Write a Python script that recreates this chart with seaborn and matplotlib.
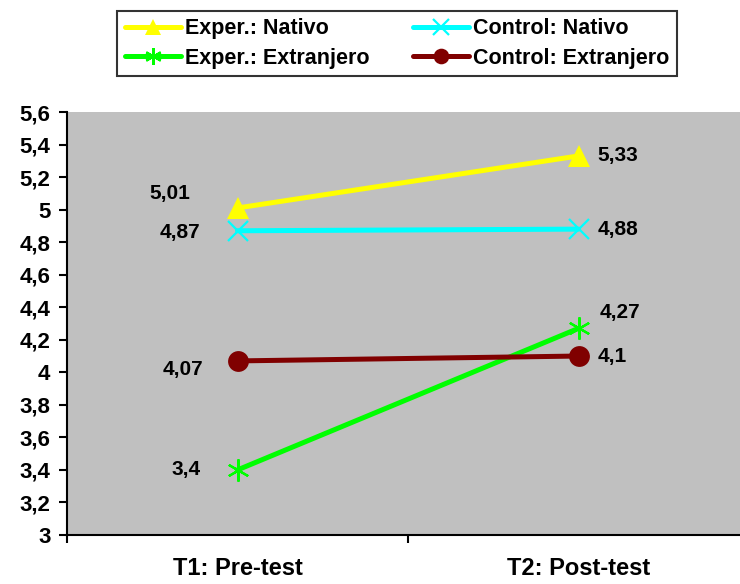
import matplotlib
matplotlib.use("Agg")
import matplotlib.pyplot as plt
import seaborn as sns
import pandas as pd

# Mean scores per group at each test moment
moments = ["T1: Pre-test", "T2: Post-test"]
exper_nativo = [5.01, 5.33]
control_nativo = [4.87, 4.88]
exper_extranjero = [3.40, 4.27]
control_extranjero = [4.07, 4.10]

series_names = ["Exper.: Nativo", "Control: Nativo",
                "Exper.: Extranjero", "Control: Extranjero"]
series_values = [exper_nativo, control_nativo, exper_extranjero, control_extranjero]

colors = {"Exper.: Nativo": "#FFFF00", "Control: Nativo": "#00FFFF",
          "Exper.: Extranjero": "#00FF00", "Control: Extranjero": "#800000"}
markers = {"Exper.: Nativo": "^", "Control: Nativo": "x",
           "Exper.: Extranjero": (6, 2, 0), "Control: Extranjero": "o"}
msizes = {"Exper.: Nativo": 16, "Control: Nativo": 15,
          "Exper.: Extranjero": 16, "Control: Extranjero": 15}

# label offsets (pixels) relative to each point: (dx, dy, ha)
label_offsets = {
    "Exper.: Nativo": [(-47, 14, "right"), (19, 0, "left")],
    "Control: Nativo": [(-37, -2, "right"), (19, 0, "left")],
    "Exper.: Extranjero": [(-37, 0, "right"), (21, 16, "left")],
    "Control: Extranjero": [(-34, -9, "right"), (19, 0, "left")],
}

rows = []
for name, vals in zip(series_names, series_values):
    for m, v in zip(moments, vals):
        rows.append({"Momento": m, "Puntuación": v, "Grupo": name})
df = pd.DataFrame(rows)

sns.set_style("white")
plt.rcParams["font.family"] = ["Liberation Sans", "DejaVu Sans"]
plt.rcParams["font.weight"] = "bold"
plt.rcParams["text.color"] = "black"
plt.rcParams["xtick.color"] = "black"
plt.rcParams["ytick.color"] = "black"

fig = plt.figure(figsize=(7.4, 5.84), dpi=100)
ax = fig.add_axes([67 / 740, 49 / 584, 682 / 740, 423 / 584])
ax.set_facecolor("#C0C0C0")

for name in series_names:
    sub = df[df["Grupo"] == name]
    thin = name in ("Control: Nativo", "Exper.: Extranjero")
    sns.lineplot(data=sub, x="Momento", y="Puntuación", ax=ax,
                 color=colors[name], linewidth=3.6, marker=markers[name],
                 markersize=msizes[name], markeredgewidth=1.6 if thin else 0,
                 markeredgecolor=colors[name], label=name,
                 sort=False, legend=False)

for name, vals in zip(series_names, series_values):
    for i, v in enumerate(vals):
        dx, dy, ha = label_offsets[name][i]
        ax.annotate(f"{v:g}".replace(".", ","), (i, v),
                    xytext=(dx, dy), textcoords="offset pixels",
                    ha=ha, va="center", fontsize=15, fontweight="bold",
                    color="black")

ax.set_xlim(-0.5, 1.5)
ax.set_ylim(3, 5.6)
yt = [3 + 0.2 * k for k in range(14)]
ax.set_yticks(yt)
ax.set_yticklabels([f"{t:.1f}".rstrip("0").rstrip(".").replace(".", ",") for t in yt],
                   fontsize=16, fontweight="bold")
ax.set_xticks([-0.5, 0.5, 1.5])
ax.set_xticklabels([])
ax.set_xticks([0, 1], minor=True)
ax.set_xticklabels(moments, minor=True, fontsize=17, fontweight="bold")
ax.tick_params(axis="x", which="minor", length=0, pad=16)
ax.tick_params(axis="both", which="major", direction="out", length=6,
               width=1.5, color="black", left=True, bottom=True, pad=6)
ax.set_xlabel("")
ax.set_ylabel("")
for s in ["top", "right"]:
    ax.spines[s].set_visible(False)
for s in ["left", "bottom"]:
    ax.spines[s].set_color("black")
    ax.spines[s].set_linewidth(1.5)

handles, labels = ax.get_legend_handles_labels()
lookup = dict(zip(labels, handles))
# two columns filled column-wise: Exper. on the left, Control on the right
order = ["Exper.: Nativo", "Exper.: Extranjero", "Control: Nativo", "Control: Extranjero"]
leg = fig.legend([lookup[n] for n in order], order, ncol=2, loc="center",
                 bbox_to_anchor=(117 / 740, 1 - 77 / 584, 560 / 740, 67 / 584),
                 mode="expand", frameon=True, fancybox=False,
                 prop={"size": 15.5, "weight": "bold"}, handlelength=2.6,
                 handletextpad=0.2, borderaxespad=0, labelspacing=0.4,
                 columnspacing=0.5, borderpad=0.35, markerscale=0.75)
leg.get_frame().set_edgecolor("black")
leg.get_frame().set_linewidth(1.5)

fig.savefig("out.png", dpi=100, facecolor="white")
